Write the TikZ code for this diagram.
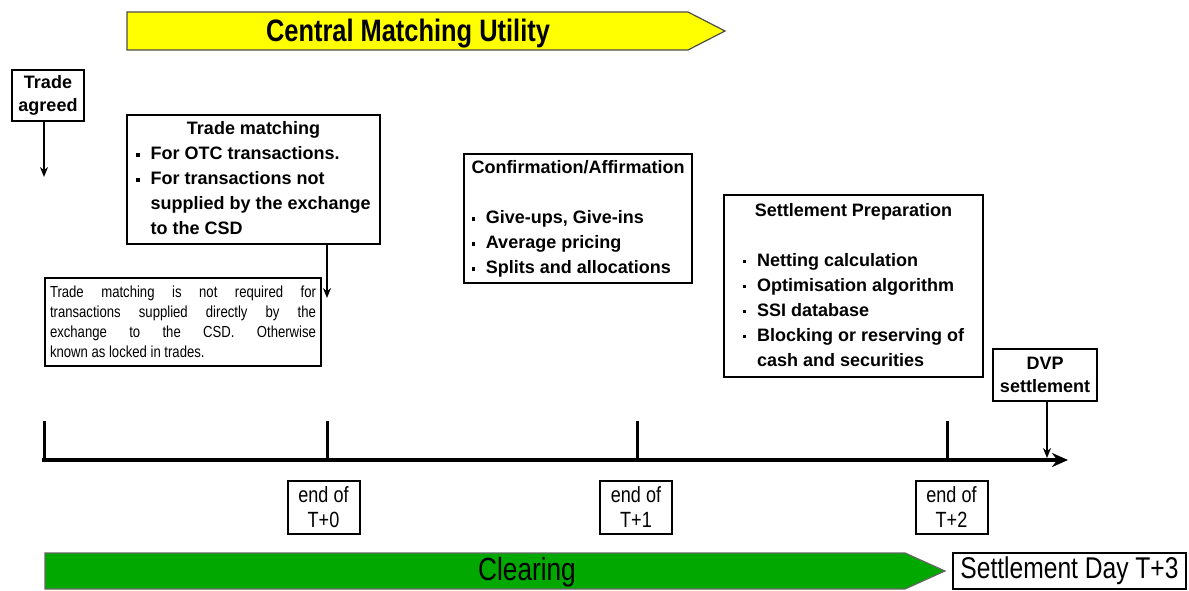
\documentclass[tikz,border=0pt]{standalone}
\usepackage{fontspec}
\setmainfont{Liberation Sans}
\newfontfamily\narrowfont[FakeStretch=0.82]{Liberation Sans}
\usetikzlibrary{arrows.meta}

\definecolor{cmuyellow}{RGB}{255,255,0}
\definecolor{clrgreen}{RGB}{0,168,0}

\newcommand\blt{\makebox[0.8em][l]{\raisebox{0.3ex}{\rule{1.8pt}{1.8pt}}}}
\newcommand\hang{\hspace*{0.8em}}

\tikzset{
  box/.style={draw, line width=1pt, fill=white, inner xsep=3pt, inner ysep=1pt,
    font=\bfseries\fontsize{9}{12.5}\selectfont},
  daybox/.style={draw, line width=1pt, fill=white, align=center, inner sep=1pt,
    font=\narrowfont\fontsize{11}{12.5}\selectfont},
  link/.style={line width=1pt, -{Stealth[length=5pt,width=4pt]}},
}

\begin{document}
\begin{tikzpicture}[x=0.5pt,y=-0.5pt]
\useasboundingbox (0,0) rectangle (1189,590);

% central matching utility
\draw[fill=cmuyellow, draw=black!70, line width=0.6pt]
  (127,12) -- (688,12) -- (725,31) -- (688,50) -- (127,50) -- cycle;
\node[font=\narrowfont\bfseries\fontsize{15.5}{17}\selectfont] (cmu) at (408,34) {Central Matching Utility};

% clearing
\draw[fill=clrgreen, draw=black!60, line width=0.6pt]
  (45,553) -- (905,553) -- (945,571) -- (905,589) -- (45,589) -- cycle;
\node[font=\narrowfont\fontsize{16}{18}\selectfont] (clr) at (527,572) {Clearing};

\node[draw, line width=1pt, minimum width=116.5pt, minimum height=18pt, inner sep=0pt,
  font=\narrowfont\fontsize{15}{17}\selectfont] (sd) at (1069.5,571) {Settlement Day T+3};

% time line
\coordinate (ax0) at (42,460);
\coordinate (ax1) at (1068,460);
\draw[line width=2pt, -{Stealth[length=8pt,width=7pt]}] (ax0) -- (ax1);
\foreach \x/\n in {44/0,327/1,637/2,947/3}
  \draw[line width=1.5pt] (\x,421) coordinate (tk\n) -- (\x,460);

\foreach \x/\d in {323.5/0,636/1,951.5/2}
  \node[daybox, minimum width=36pt, minimum height=26.5pt] (end\d) at (\x,507.5) {end of\\T+\d};

% boxes above the line
\node[box, align=center, minimum width=36pt, minimum height=25.5pt,
  font=\bfseries\fontsize{9}{11.5}\selectfont] (ta) at (48,95.5) {Trade\\agreed};
\coordinate (taend) at (44,177);
\draw[link] (ta.south -| taend) -- (taend);

\node[box, minimum width=126.5pt, minimum height=63.5pt] (tm) at (253.5,179.5) {%
  \begin{tabular}{@{}l@{}}
  \multicolumn{1}{@{}c@{}}{Trade matching}\\
  \blt For OTC transactions.\\
  \blt For transactions not\\
  \hang supplied by the exchange\\
  \hang to the CSD
  \end{tabular}};
\coordinate (tmend) at (327,298);
\draw[link] (tm.south -| tmend) -- (tmend);

\node[draw, line width=1pt, fill=white, minimum width=138pt, minimum height=44pt,
  text width=133pt, align=justify, inner sep=2pt,
  font=\narrowfont\fontsize{8}{10}\selectfont] (note) at (183,322)
  {Trade matching is not required for\linebreak
   transactions supplied directly by the\linebreak
   exchange to the CSD. Otherwise\linebreak
   known as locked in trades.};

\node[box, minimum width=114pt, minimum height=64.5pt] (conf) at (578,218.5) {%
  \begin{tabular}{@{}l@{}}
  Confirmation/Affirmation\\
  \\
  \blt Give-ups, Give-ins\\
  \blt Average pricing\\
  \blt Splits and allocations
  \end{tabular}};

\node[box, minimum width=129.5pt, minimum height=91pt] (sp) at (853.5,286) {%
  \begin{tabular}{@{}l@{}}
  \multicolumn{1}{@{}c@{}}{Settlement Preparation}\\
  \\
  \blt Netting calculation\\
  \blt Optimisation algorithm\\
  \blt SSI database\\
  \blt Blocking or reserving of\\
  \hang cash and securities
  \end{tabular}};

\node[box, align=center, minimum width=52pt, minimum height=26pt,
  font=\bfseries\fontsize{9}{11.5}\selectfont] (dvp) at (1045,375) {DVP\\settlement};
\coordinate (dvpend) at (1047,458);
\draw[link, line width=0.7pt] (dvp.south -| dvpend) -- (dvpend);

\end{tikzpicture}
\end{document}
